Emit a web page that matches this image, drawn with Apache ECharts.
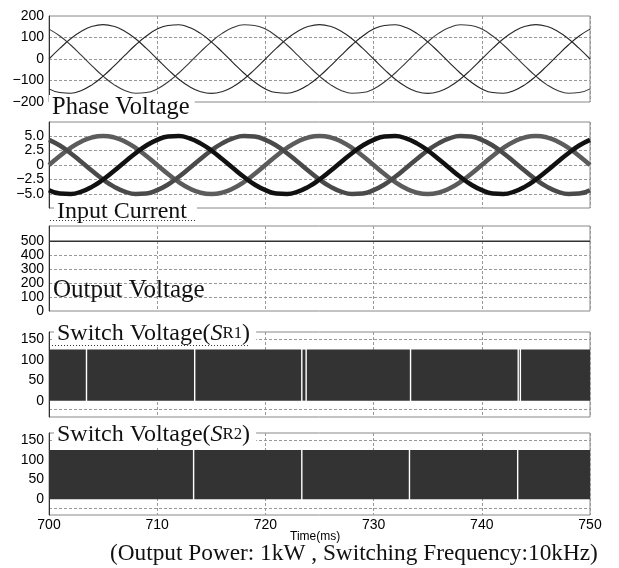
<!DOCTYPE html>
<html><head><meta charset="utf-8">
<script src="https://cdn.jsdelivr.net/npm/echarts@6/dist/echarts.min.js"></script>
<style>html,body{margin:0;padding:0;background:#fff}#c{width:619px;height:568px}</style>
</head><body><div id="c"></div><script>
// ---- data ----
const timeMs = [700,701,702,703,704,705,706,707,708,709,710,711,712,713,714,715,716,717,718,719,720,721,722,723,724,725,726,727,728,729,730,731,732,733,734,735,736,737,738,739,740,741,742,743,744,745,746,747,748,749,750];
const phaseVoltageA = [0,49,94,129,152,160,152,129,94,49,0,-49,-94,-129,-152,-160,-152,-129,-94,-49,0,49,94,129,152,160,152,129,94,49,0,-49,-94,-129,-152,-160,-152,-129,-94,-49,0,49,94,129,152,160,152,129,94,49,0];
const phaseVoltageB = [139,107,65,17,-33,-80,-119,-146,-159,-156,-139,-107,-65,-17,33,80,119,146,159,156,139,107,65,17,-33,-80,-119,-146,-159,-156,-139,-107,-65,-17,33,80,119,146,159,156,139,107,65,17,-33,-80,-119,-146,-159,-156,-139];
const phaseVoltageC = [-139,-156,-159,-146,-119,-80,-33,17,65,107,139,156,159,146,119,80,33,-17,-65,-107,-139,-156,-159,-146,-119,-80,-33,17,65,107,139,156,159,146,119,80,33,-17,-65,-107,-139,-156,-159,-146,-119,-80,-33,17,65,107,139];
const inputCurrentA = [0,1.55,2.94,4.05,4.76,5,4.76,4.05,2.94,1.55,0,-1.55,-2.94,-4.05,-4.76,-5,-4.76,-4.05,-2.94,-1.55,0,1.55,2.94,4.05,4.76,5,4.76,4.05,2.94,1.55,0,-1.55,-2.94,-4.05,-4.76,-5,-4.76,-4.05,-2.94,-1.55,0,1.55,2.94,4.05,4.76,5,4.76,4.05,2.94,1.55,0];
const inputCurrentB = [4.33,3.35,2.03,0.52,-1.04,-2.5,-3.72,-4.57,-4.97,-4.89,-4.33,-3.35,-2.03,-0.52,1.04,2.5,3.72,4.57,4.97,4.89,4.33,3.35,2.03,0.52,-1.04,-2.5,-3.72,-4.57,-4.97,-4.89,-4.33,-3.35,-2.03,-0.52,1.04,2.5,3.72,4.57,4.97,4.89,4.33,3.35,2.03,0.52,-1.04,-2.5,-3.72,-4.57,-4.97,-4.89,-4.33];
const inputCurrentC = [-4.33,-4.89,-4.97,-4.57,-3.72,-2.5,-1.04,0.52,2.03,3.35,4.33,4.89,4.97,4.57,3.72,2.5,1.04,-0.52,-2.03,-3.35,-4.33,-4.89,-4.97,-4.57,-3.72,-2.5,-1.04,0.52,2.03,3.35,4.33,4.89,4.97,4.57,3.72,2.5,1.04,-0.52,-2.03,-3.35,-4.33,-4.89,-4.97,-4.57,-3.72,-2.5,-1.04,0.52,2.03,3.35,4.33];
const outputTime = [700, 750];
const outputVoltage = [500, 500];
const switchLevel = 125;
const sr1GapTimes = [703.4, 713.4, 723.3, 723.7, 733.35, 743.3, 743.5];
const sr2GapTimes = [713.3, 723.3, 733.25, 743.25];
const gapWidthMs = 0.13;
const xTickValues = [700, 710, 720, 730, 740, 750];
const voltageTicks = [-200, -100, 0, 100, 200];
const currentTicks = [-5, -2.5, 0, 2.5, 5];
const outputTicks = [0, 100, 200, 300, 400, 500];
const switchTicks = [0, 50, 100, 150];
const switchGridLines = [-22, 150];

// ---- build ----
const pair = (xs, ys) => xs.map((x, i) => [x, ys[i]]);
function switchSegments(gaps) {
  const segs = [];
  let start = 700;
  gaps.forEach(g => { segs.push([start, g, switchLevel]); start = g + gapWidthMs; });
  segs.push([start, 750, switchLevel]);
  return segs;
}
const minus = s => String(s).replace('-', '\u2212');
const grids = [
  {left: 49, top: 16, width: 541, height: 86},
  {left: 49, top: 122, width: 541, height: 86},
  {left: 49, top: 226, width: 541, height: 85},
  {left: 49, top: 332, width: 541, height: 85},
  {left: 49, top: 433, width: 541, height: 82}
].map(g => Object.assign({show: true, borderColor: '#888', borderWidth: 1, backgroundColor: 'transparent'}, g));

const dashed = {show: true, lineStyle: {color: '#999', type: [3, 2], width: 1}};
const xAxes = grids.map((g, i) => ({
  type: 'value', gridIndex: i, min: 700, max: 750, interval: 10,
  axisLine: {show: false}, axisTick: {show: false},
  axisLabel: {show: i === 4, color: '#000', fontFamily: 'Liberation Sans', fontSize: 14, margin: 3,
    customValues: xTickValues},
  splitLine: dashed
}));
const yLabel = (vals, fmt) => ({color: '#000', fontFamily: 'Liberation Sans', fontSize: 14, margin: 5,
  customValues: vals, formatter: fmt});
const yBase = (i, min, max, labels, lines, fmt) => ({
  type: 'value', gridIndex: i, min, max,
  axisLine: {show: true, lineStyle: {color: '#333', width: 1}},
  axisTick: {show: false, customValues: lines},
  axisLabel: yLabel(labels, fmt),
  splitLine: dashed
});
const yAxes = [
  yBase(0, -200, 200, voltageTicks, [-100, 0, 100], v => minus(v)),
  yBase(1, -7.4, 7.4, currentTicks, currentTicks, v => v === 0 ? '0' : (v < 0 ? '\u2212' : '') + Math.abs(v).toFixed(1)),
  yBase(2, 0, 610, outputTicks, [100, 200, 300, 400], v => String(v)),
  yBase(3, -40, 168, switchTicks, switchGridLines, v => String(v)),
  yBase(4, -40, 168, switchTicks, switchGridLines, v => String(v))
];

const line = (i, data, color, width) => ({
  type: 'line', xAxisIndex: i, yAxisIndex: i, data, showSymbol: false, smooth: true,
  lineStyle: {color, width}, silent: true, animation: false
});
const sw = (i, gaps) => ({
  type: 'custom', xAxisIndex: i, yAxisIndex: i, data: switchSegments(gaps), silent: true, animation: false,
  encode: {x: [0, 1], y: 2},
  renderItem: (params, api) => {
    const p0 = api.coord([api.value(0), api.value(2)]);
    const p1 = api.coord([api.value(1), 0]);
    return {type: 'rect', shape: {x: p0[0], y: p0[1], width: p1[0] - p0[0], height: p1[1] - p0[1]},
      style: {fill: '#333'}};
  }
});

const serif = 'Liberation Serif';
const mkStyle = fs => ({fontFamily: serif, fontSize: fs, fontWeight: 'normal', color: '#111', lineHeight: 26,
  rich: {i: {fontFamily: serif, fontSize: fs, fontStyle: 'italic', color: '#111', lineHeight: 26},
         s: {fontFamily: serif, fontSize: fs * 0.7, color: '#111', lineHeight: 26}}});
const ttl = (text, left, top, bg, padR, fs) => ({text, left, top, padding: [0, padR || 3, 0, 3],
  backgroundColor: bg ? '#fff' : 'transparent', textStyle: mkStyle(fs || 24.5)});

const option = {
  animation: false,
  backgroundColor: '#fff',
  grid: grids,
  xAxis: xAxes,
  yAxis: yAxes,
  title: [
    ttl('Phase Voltage', 49, 95, true, 5),
    ttl('Input Current', 54, 199, true, 10, 24),
    ttl('Output Voltage', 50, 277, false, 3, 25),
    ttl('Switch Voltage({i|S}{s|R1})', 54, 321, true, 6, 24),
    ttl('Switch Voltage({i|S}{s|R2})', 54, 422, true, 6, 24),
    ttl('(Output Power: 1kW , Switching Frequency:10kHz)', 107, 541, false, 3, 23.3),
    {text: 'Time(ms)', left: 290, top: 531, padding: 0,
      textStyle: {fontFamily: 'Liberation Sans', fontSize: 12, fontWeight: 'normal', color: '#000'}}
  ],
  graphic: [
    {type: 'line', shape: {x1: 50, y1: 220.5, x2: 195, y2: 220.5}, style: {stroke: '#333', lineWidth: 1, lineDash: [1, 2]}, z: 10},
    {type: 'line', shape: {x1: 49, y1: 345.5, x2: 250, y2: 345.5}, style: {stroke: '#333', lineWidth: 1, lineDash: [1, 2]}, z: 10}
  ],
  series: [
    line(0, pair(timeMs, phaseVoltageA), '#2a2a2a', 1.1),
    line(0, pair(timeMs, phaseVoltageB), '#3a3a3a', 1.1),
    line(0, pair(timeMs, phaseVoltageC), '#222', 1.1),
    line(1, pair(timeMs, inputCurrentA), '#5c5c5c', 4.5),
    line(1, pair(timeMs, inputCurrentB), '#4a4a4a', 4.5),
    line(1, pair(timeMs, inputCurrentC), '#111', 4.5),
    line(2, pair(outputTime, outputVoltage), '#333', 1.5),
    sw(3, sr1GapTimes),
    sw(4, sr2GapTimes)
  ]
};
const chart = echarts.init(document.getElementById('c'), null, {renderer: 'canvas'});
chart.setOption(option);
</script></body></html>
